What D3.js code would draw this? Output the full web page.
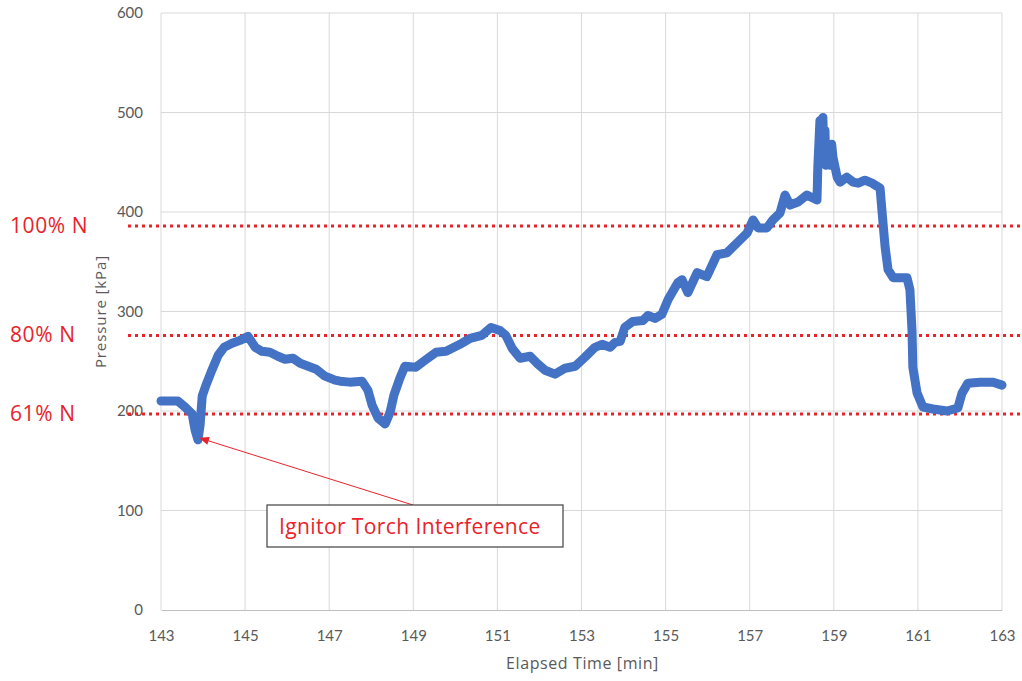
<!DOCTYPE html>
<html>
<head>
<meta charset="utf-8">
<script src="https://cdn.jsdelivr.net/npm/d3@7"></script>
<style>
  html, body { margin: 0; padding: 0; background: #fff; }
  svg { display: block; }
</style>
</head>
<body>
<svg id="chart" width="1022" height="681"></svg>
<script>
// Elapsed time [min] and chamber pressure [kPa]
const timeMin = [
  143.00, 143.40, 143.57, 143.74, 143.81, 143.88, 143.93, 143.98, 144.07, 144.21,
  144.36, 144.50, 144.69, 144.88, 145.07, 145.24, 145.40, 145.59, 145.78, 145.95,
  146.14, 146.31, 146.50, 146.69, 146.90, 147.14, 147.26, 147.49, 147.78, 147.92,
  148.02, 148.16, 148.33, 148.45, 148.54, 148.68, 148.80, 149.06, 149.28, 149.54,
  149.78, 150.11, 150.35, 150.63, 150.85, 151.06, 151.20, 151.35, 151.54, 151.78,
  151.94, 152.13, 152.37, 152.61, 152.85, 153.08, 153.32, 153.49, 153.68, 153.80,
  153.92, 154.03, 154.22, 154.46, 154.58, 154.75, 154.91, 155.06, 155.29, 155.39,
  155.53, 155.75, 155.98, 156.22, 156.46, 156.70, 156.94, 157.08, 157.20, 157.41,
  157.55, 157.72, 157.84, 157.96, 158.15, 158.36, 158.60, 158.62, 158.67, 158.72,
  158.74, 158.77, 158.79, 158.81, 158.86, 158.91, 158.95, 158.98, 159.08, 159.15,
  159.31, 159.46, 159.58, 159.74, 159.91, 160.10, 160.17, 160.22, 160.29, 160.41,
  160.74, 160.81, 160.86, 160.88, 160.98, 161.12, 161.36, 161.69, 161.95, 162.05,
  162.19, 162.48, 162.79, 163.00
];
const pressureKPa = [
  210, 210, 204, 197, 181, 171, 186, 215, 226, 241,
  256, 264, 268, 271, 275, 264, 260, 259, 255, 252,
  253, 248, 245, 242, 235, 231, 230, 229, 230, 221,
  206, 193, 187, 199, 216, 233, 245, 244, 251, 259,
  260, 267, 273, 276, 284, 281, 276, 263, 253, 255,
  248, 241, 237, 243, 245, 254, 264, 267, 264, 269,
  270, 284, 290, 291, 296, 293, 297, 312, 329, 332,
  319, 339, 335, 357, 359, 369, 379, 392, 384, 384,
  392, 399, 417, 407, 410, 417, 412, 445, 492, 472,
  495, 452, 482, 447, 465, 447, 468, 455, 435, 430,
  435, 430, 429, 432, 429, 424, 389, 365, 342, 334,
  334, 322, 281, 244, 218, 204, 202, 200, 203, 218,
  228, 229, 229, 226
];

// Reference thrust levels
const levelLabels = ["100% N", "80% N", "61% N"];
const levelValues = [386, 276, 197];

// Axis ticks
const xTicks = [143, 145, 147, 149, 151, 153, 155, 157, 159, 161, 163];
const yTicks = [0, 100, 200, 300, 400, 500, 600];

// Annotation
const noteText = "Ignitor Torch Interference";
const noteTime = 143.88;
const notePressure = 171;

const svg = d3.select("#chart");
const font = "Lato, 'Open Sans', sans-serif";
const wideFont = "'Open Sans', Lato, sans-serif";
const red = "#e8232a";
const grid = "#d9d9d9";
const tickColor = "#595959";

const plot = { left: 161, right: 1002, top: 13, bottom: 610 };

const x = d3.scaleLinear().domain([143, 163]).range([plot.left, plot.right]);
const y = d3.scaleLinear().domain([0, 600]).range([plot.bottom, plot.top]);

// Gridlines
svg.append("g").selectAll("line.h").data(yTicks.filter(d => d > 0)).join("line")
  .attr("x1", plot.left).attr("x2", plot.right)
  .attr("y1", d => y(d)).attr("y2", d => y(d))
  .attr("stroke", grid).attr("stroke-width", 1);
svg.append("g").selectAll("line.v").data(xTicks).join("line")
  .attr("x1", d => x(d)).attr("x2", d => x(d))
  .attr("y1", plot.top).attr("y2", plot.bottom)
  .attr("stroke", grid).attr("stroke-width", 1);

// Bottom axis
const xAxis = svg.append("g")
  .attr("transform", `translate(0,${plot.bottom})`)
  .call(d3.axisBottom(x).tickValues(xTicks).tickSize(0).tickPadding(20).tickFormat(d3.format("d")));
xAxis.select(".domain").attr("stroke", "#bfbfbf");
xAxis.selectAll("text").attr("fill", tickColor).style("font-family", font).style("font-size", "15px");

// Left axis
const yAxis = svg.append("g")
  .attr("transform", `translate(${plot.left},0)`)
  .call(d3.axisLeft(y).tickValues(yTicks).tickSize(0).tickPadding(18).tickFormat(d3.format("d")));
yAxis.select(".domain").remove();
yAxis.selectAll("text").attr("fill", tickColor).style("font-family", font).style("font-size", "15px");

// Axis titles
svg.append("text")
  .attr("x", (plot.left + plot.right) / 2 + 1).attr("y", 669)
  .attr("text-anchor", "middle")
  .attr("fill", tickColor).style("font-family", wideFont).style("font-size", "16px")
  .style("letter-spacing", "0.6px")
  .text("Elapsed Time [min]");
svg.append("text")
  .attr("transform", `translate(106,${(plot.top + plot.bottom) / 2}) rotate(-90)`)
  .attr("text-anchor", "middle")
  .attr("fill", tickColor).style("font-family", wideFont).style("font-size", "15px")
  .style("letter-spacing", "0.9px")
  .text("Pressure [kPa]");

// Reference levels: dotted lines and labels
svg.append("g").selectAll("line").data(levelValues).join("line")
  .attr("x1", 128).attr("x2", 1022)
  .attr("y1", d => y(d)).attr("y2", d => y(d))
  .attr("stroke", red).attr("stroke-width", 3).attr("stroke-dasharray", "3,4");
svg.append("g").selectAll("text").data(levelLabels).join("text")
  .attr("x", 10).attr("y", (d, i) => y(levelValues[i]) + 7)
  .attr("fill", red).style("font-family", wideFont).style("font-size", "21px")
  .style("letter-spacing", "0.6px")
  .text(d => d);

// Pressure trace
const pts = timeMin.map((t, i) => [t, pressureKPa[i]]);
svg.append("path")
  .datum(pts)
  .attr("fill", "none")
  .attr("stroke", "#4472c4")
  .attr("stroke-width", 9)
  .attr("stroke-linejoin", "round")
  .attr("stroke-linecap", "round")
  .attr("d", d3.line().x(d => x(d[0])).y(d => y(d[1])).curve(d3.curveLinear));

// Annotation callout
const box = { x: 267, y: 505, w: 296, h: 42 };
const tipX = x(noteTime) + 1, tipY = y(notePressure) - 2;
const baseX = 413, baseY = box.y;
const ang = Math.atan2(tipY - baseY, tipX - baseX);
const ah = 10, aw = 4;
svg.append("line")
  .attr("x1", baseX).attr("y1", baseY)
  .attr("x2", tipX - Math.cos(ang) * ah * 0.8).attr("y2", tipY - Math.sin(ang) * ah * 0.8)
  .attr("stroke", red).attr("stroke-width", 1);
svg.append("path")
  .attr("d", (() => {
    const bx = tipX - Math.cos(ang) * ah, by = tipY - Math.sin(ang) * ah;
    const px = -Math.sin(ang) * aw, py = Math.cos(ang) * aw;
    return `M${tipX},${tipY}L${bx + px},${by + py}L${bx - px},${by - py}Z`;
  })())
  .attr("fill", red);
svg.append("rect")
  .attr("x", box.x).attr("y", box.y).attr("width", box.w).attr("height", box.h)
  .attr("fill", "#fff").attr("stroke", "#404040").attr("stroke-width", 1.2);
svg.append("text")
  .attr("x", box.x + 12).attr("y", box.y + 29)
  .attr("fill", red).style("font-family", wideFont).style("font-size", "21px")
  .style("letter-spacing", "0.4px")
  .text(noteText);
</script>
</body>
</html>
